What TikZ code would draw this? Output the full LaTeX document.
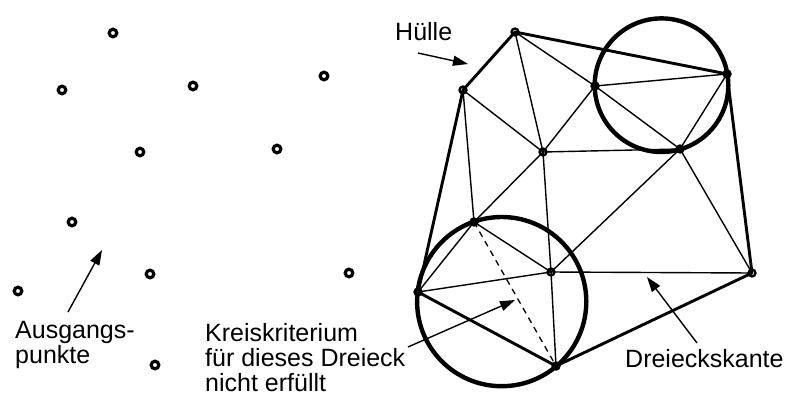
\documentclass[tikz,border=0pt]{standalone}
\usepackage{fontspec}
\setmainfont{Liberation Sans}
\usetikzlibrary{arrows.meta}
\begin{document}
\begin{tikzpicture}[x=1pt,y=-1pt,
  pt/.style={circle,draw,line width=3.2pt,minimum size=7.6pt,inner sep=0pt},
  vx/.style={circle,draw,line width=2.3pt,minimum size=7pt,inner sep=0pt},
  hull/.style={line width=2.9pt,line join=round},
  edge/.style={line width=1.4pt},
  flip/.style={line width=1.3pt,dash pattern=on 6pt off 5pt},
  crit/.style={line width=4.4pt},
  lbl/.style={font=\fontsize{25}{24.6}\selectfont,inner sep=0pt,anchor=north west,align=left},
  pointer/.style={line width=1.4pt,-{Triangle[length=15pt,width=10pt]}}]
\useasboundingbox (0,0) rectangle (791,396);

% scattered input points
\foreach \n/\p in {p1/{(113,33)},p2/{(62,90)},p3/{(193,86)},p4/{(324,76)},
                   p5/{(140,152)},p6/{(277,149)},p7/{(72,222)},p8/{(150,274)},
                   p9/{(18,291)},p10/{(349,273)},p11/{(155,365)}}
  \node[pt] (\n) at \p {};

% the same points, triangulated
\coordinate (A) at (515,32);
\coordinate (B) at (463,90);
\coordinate (C) at (727,74);
\coordinate (D) at (595,86);
\coordinate (E) at (543,152);
\coordinate (F) at (680,149);
\coordinate (G) at (474,222);
\coordinate (H) at (551,272);
\coordinate (I) at (418,292);
\coordinate (J) at (752,273);
\coordinate (K) at (556,366);

% inner edges
\foreach \a/\b in {A/D,A/E,B/E,B/G,D/C,D/E,D/F,C/F,E/F,E/G,E/H,F/H,F/J,H/J,G/H,G/I,I/H,H/K}
  \draw[edge] (\a) -- (\b);
\draw[flip] (G) -- (K);

% convex hull
\draw[hull] (A) -- (C) -- (J) -- (K) -- (I) -- (B) -- cycle;

% circumcircles
\coordinate (c1) at (661.5,85.2);
\coordinate (c2) at (501.7,301.6);
\draw[crit] (c1) circle (66.8);
\draw[crit] (c2) circle (84.6);

% vertex markers
\foreach \v in {A,B,C,D,E,F,G,H,I,J,K}
  \node[vx] (v\v) at (\v) {};

% labels (top edge = first baseline minus cap height)
\node[lbl] (huelle) at (395,22) {Hülle};
\node[lbl] (ausg) at (15,321) {Ausgangs-\\punkte};
\node[lbl] (krit) at (205,323.5) {Kreiskriterium\\für dieses Dreieck\\nicht erfüllt};
\node[lbl] (kante) at (625,349) {Dreieckskante};

% pointers
\coordinate (t1) at (418,53);  \coordinate (h1) at (468,64);
\coordinate (t2) at (68,312);  \coordinate (h2) at (102,250);
\coordinate (t3) at (408,347); \coordinate (h3) at (515,300);
\coordinate (t4) at (697,343); \coordinate (h4) at (647,277);
\draw[pointer] (t1) -- (h1);
\draw[pointer] (t2) -- (h2);
\draw[pointer] (t3) -- (h3);
\draw[pointer] (t4) -- (h4);
\end{tikzpicture}
\end{document}
